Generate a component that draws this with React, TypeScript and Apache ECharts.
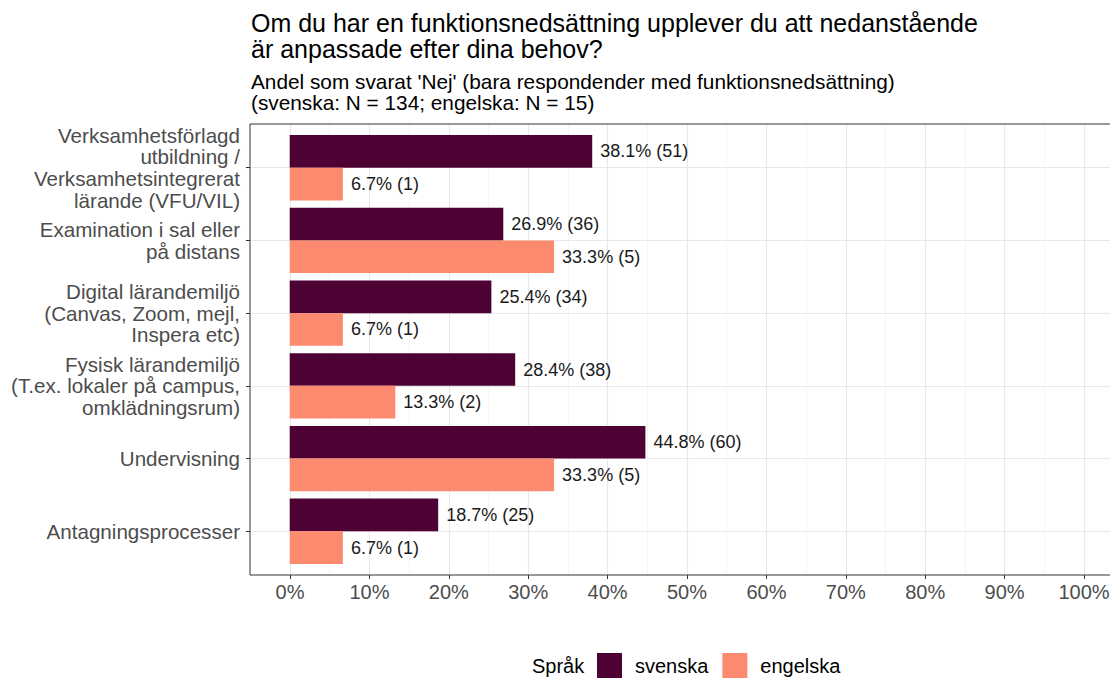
import { useEffect, useRef } from 'react';
import * as echarts from 'echarts';

const categories = [
  'Verksamhetsförlagd\nutbildning /\nVerksamhetsintegrerat\nlärande (VFU/VIL)',
  'Examination i sal eller\npå distans',
  'Digital lärandemiljö\n(Canvas, Zoom, mejl,\nInspera etc)',
  'Fysisk lärandemiljö\n(T.ex. lokaler på campus,\nomklädningsrum)',
  'Undervisning',
  'Antagningsprocesser',
];
const seriesNames = ['svenska', 'engelska'];
const svenskaValues = [38.1, 26.9, 25.4, 28.4, 44.8, 18.7];
const svenskaCounts = [51, 36, 34, 38, 60, 25];
const engelskaValues = [6.7, 33.3, 6.7, 13.3, 33.3, 6.7];
const engelskaCounts = [1, 5, 1, 2, 5, 1];
const xMin = 0;
const xMax = 100;
const xStep = 10;

const titleText = 'Om du har en funktionsnedsättning upplever du att nedanstående\när anpassade efter dina behov?';
const subtitleText = "Andel som svarat 'Nej' (bara respondender med funktionsnedsättning)\n(svenska: N = 134; engelska: N = 15)";
const legendTitle = 'Språk';

const FONT = '"Liberation Sans", Arial, Helvetica, sans-serif';
const COL_SV = '#4E0233';
const COL_EN = '#FC8A6F';

export default function App() {
  const ref = useRef<HTMLDivElement>(null);
  useEffect(() => {
    document.body.style.margin = '0';
    if (!ref.current) return;
    const chart = echarts.init(ref.current, null, { renderer: 'svg' });
    const labelOf = (counts: number[]) => (p: any) => `${Number(p.value).toFixed(1)}% (${counts[p.dataIndex]})`;
    const panelLeft = 250;
    const panelTop = 124;
    const panelH = 451;
    const unit = panelH / 6.2;
    const zeroX = 290;
    const pxPerPct = 7.94;
    const panelW = (xMax - xMin) * 1.1 * pxPerPct;
    chart.setOption({
      animation: false,
      textStyle: { fontFamily: FONT },
      title: [
        {
          text: titleText,
          left: 251,
          top: 10,
          padding: 0,
          textStyle: { fontSize: 25, lineHeight: 26, fontWeight: 'normal', color: '#000', fontFamily: FONT },
        },
        {
          text: subtitleText,
          left: 251,
          top: 71,
          padding: 0,
          textStyle: { fontSize: 20.8, lineHeight: 21, fontWeight: 'normal', color: '#000', fontFamily: FONT },
        },
        {
          text: legendTitle,
          left: 532,
          top: 656,
          padding: 0,
          textStyle: { fontSize: 20, fontWeight: 'normal', color: '#000', fontFamily: FONT },
        },
      ],
      legend: {
        data: seriesNames,
        left: 597,
        top: 653,
        padding: 0,
        itemWidth: 25,
        itemHeight: 25,
        itemGap: 14,
        icon: 'rect',
        textStyle: { fontSize: 20, color: '#000', fontFamily: FONT, padding: [0, 0, 0, 8] },
      },
      grid: [
        {
          left: panelLeft,
          top: panelTop,
          width: panelW,
          height: panelH,
          show: true,
          borderColor: '#333333',
          borderWidth: 1,
          backgroundColor: 'transparent',
          containLabel: false,
          outerBoundsMode: 'none',
          z: 10,
        },
        {
          left: zeroX,
          top: panelTop,
          width: (xMax - xMin) * pxPerPct,
          height: panelH,
          containLabel: false,
          outerBoundsMode: 'none',
        },
        {
          left: panelLeft,
          top: panelTop + 0.1 * unit,
          width: panelW,
          height: 6 * unit,
          containLabel: false,
          outerBoundsMode: 'none',
        },
      ],
      xAxis: [
        { gridIndex: 0, type: 'value', min: 0, max: 1, show: false },
        {
          gridIndex: 1,
          type: 'value',
          min: xMin,
          max: xMax,
          interval: xStep,
          axisLine: { show: false, onZero: false },
          axisTick: { show: true, length: 4, lineStyle: { color: '#333333', width: 1 } },
          axisLabel: { formatter: '{value}%', fontSize: 20, color: '#4d4d4d', margin: 7, fontFamily: FONT },
          splitLine: { show: true, lineStyle: { color: '#e8e8e8', width: 1.2 } },
          minorTick: { show: false, splitNumber: 2 },
          minorSplitLine: { show: true, lineStyle: { color: '#efefef', width: 0.7 } },
        },
        {
          gridIndex: 2,
          type: 'value',
          min: xMin - 0.05 * (xMax - xMin),
          max: xMax + 0.05 * (xMax - xMin),
          show: false,
        },
      ],
      yAxis: [
        { gridIndex: 0, type: 'value', min: 0, max: 1, show: false },
        { gridIndex: 1, type: 'value', min: 0, max: 1, show: false },
        {
          gridIndex: 2,
          type: 'category',
          inverse: true,
          data: categories,
          axisLine: { show: false, onZero: false },
          axisTick: { show: true, alignWithLabel: true, length: 4, lineStyle: { color: '#333333', width: 1 } },
          axisLabel: {
            interval: 0,
            fontSize: 20.6,
            lineHeight: 21.7,
            color: '#4d4d4d',
            margin: 10,
            align: 'right',
            fontFamily: FONT,
          },
          splitLine: { show: true, alignWithLabel: true, interval: 0, lineStyle: { color: '#e8e8e8', width: 1.2 } },
        },
      ],
      series: [
        {
          name: seriesNames[0],
          type: 'bar',
          xAxisIndex: 2,
          yAxisIndex: 2,
          data: svenskaValues,
          barGap: '0%',
          barCategoryGap: '10%',
          itemStyle: { color: COL_SV },
          label: {
            show: true,
            position: 'right',
            distance: 8,
            fontSize: 18,
            color: '#1a1a1a',
            fontFamily: FONT,
            formatter: labelOf(svenskaCounts),
          },
          z: 3,
        },
        {
          name: seriesNames[1],
          type: 'bar',
          xAxisIndex: 2,
          yAxisIndex: 2,
          data: engelskaValues,
          barGap: '0%',
          barCategoryGap: '10%',
          itemStyle: { color: COL_EN },
          label: {
            show: true,
            position: 'right',
            distance: 8,
            fontSize: 18,
            color: '#1a1a1a',
            fontFamily: FONT,
            formatter: labelOf(engelskaCounts),
          },
          z: 3,
        },
      ],
    });
    return () => chart.dispose();
  }, []);
  return <div ref={ref} style={{ width: 1110, height: 678 }} />;
}
